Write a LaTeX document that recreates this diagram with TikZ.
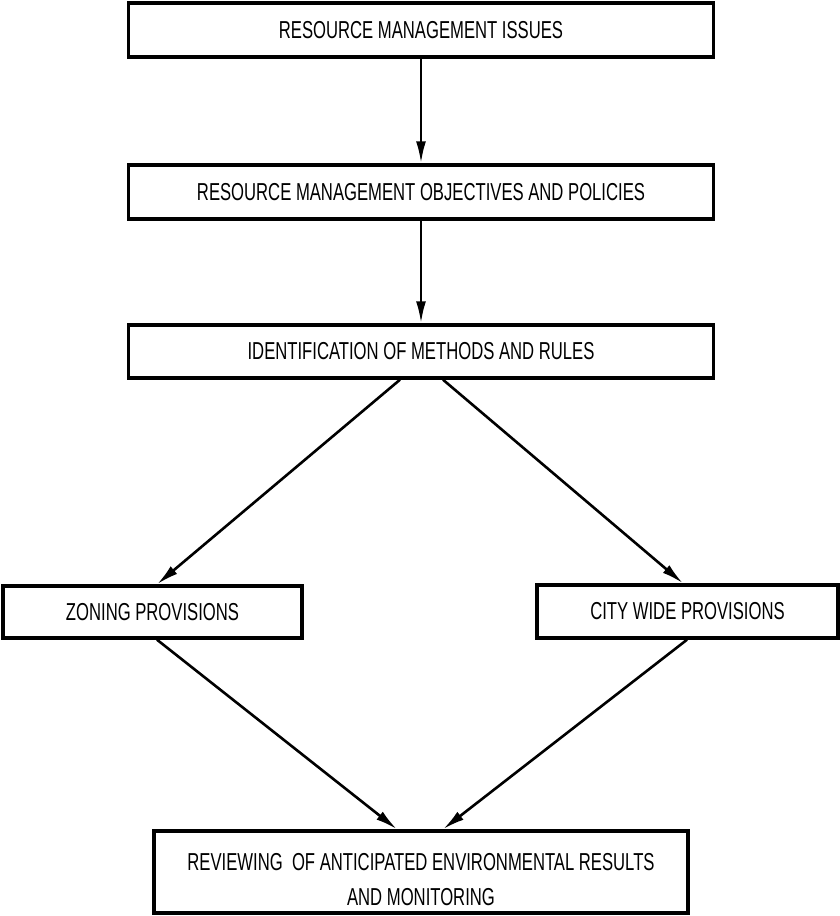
\documentclass[tikz,border=0pt]{standalone}
\usepackage{fontspec}
\setmainfont[FakeStretch=0.68]{Liberation Sans}
\usetikzlibrary{arrows.meta,calc}
\begin{document}
\begin{tikzpicture}[x=1pt,y=-1pt,
  txt/.style={inner sep=0pt, font=\fontsize{24.5}{35}\selectfont, align=center},
  box/.style={draw, line width=3.4pt, txt},
  arr/.style={line width=2.6pt, -{Latex[length=22pt,width=10pt]}}]
\useasboundingbox (0,0) rectangle (840,916);
\node[box, minimum width=585, minimum height=54] (b1) at (421,30) {RESOURCE MANAGEMENT ISSUES};
\node[box, minimum width=585, minimum height=54] (b2) at (421,192) {RESOURCE MANAGEMENT OBJECTIVES AND POLICIES};
\node[box, minimum width=585, minimum height=53] (b3) at (421,351.5) {IDENTIFICATION OF METHODS AND RULES};
\node[box, minimum width=299, minimum height=52] (zp) at (152.5,612) {ZONING PROVISIONS};
\node[box, minimum width=301, minimum height=53] (cw) at (687.5,611.5) {CITY WIDE PROVISIONS};
\node[box, minimum width=534, minimum height=82] (rv) at (421,872) {};
\node[txt] (rvt) at ($(rv.center)+(0,8)$) {REVIEWING\ \ OF ANTICIPATED ENVIRONMENTAL RESULTS\\AND MONITORING};
\draw[arr] (b1) -- (b2);
\draw[arr] (b2) -- (b3);
\draw[arr] ($(b3.south)+(-21,0)$) -- ($(zp.north)+(4.5,0)$);
\draw[arr] ($(b3.south)+(22,0)$) -- ($(cw.north)+(-4.5,0)$);
\draw[arr] ($(zp.south)+(4.5,0)$) -- ($(rv.north)+(-24,0)$);
\draw[arr] ($(cw.south)+(-0.5,0)$) -- ($(rv.north)+(22,0)$);
\end{tikzpicture}
\end{document}
